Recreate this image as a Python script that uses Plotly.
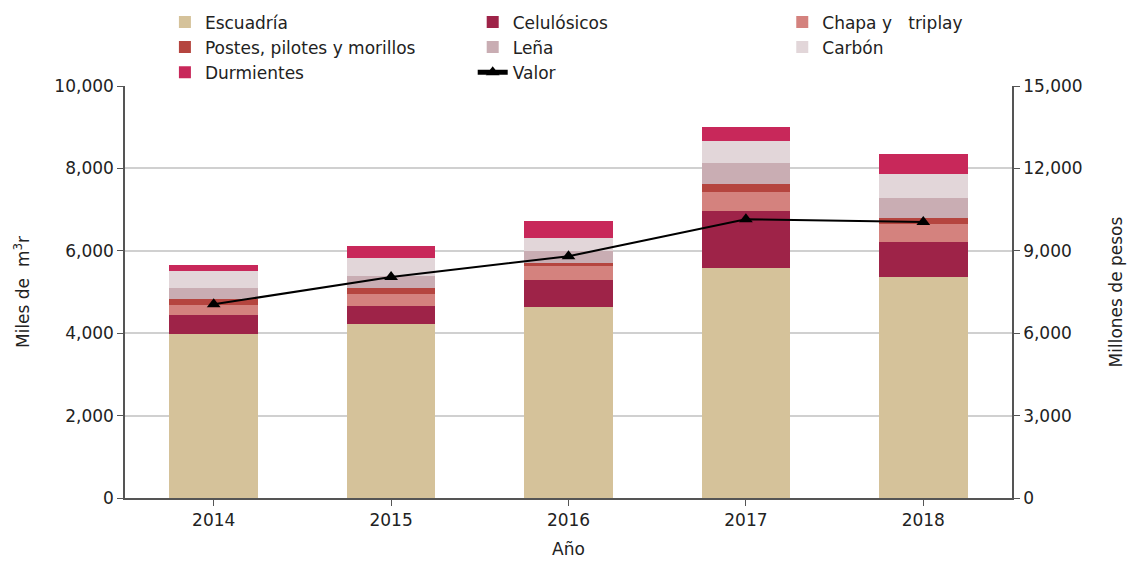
import plotly.graph_objects as go

# Datos (miles de m3r por producto, valor en millones de pesos)
anios = ['2014', '2015', '2016', '2017', '2018']
escuadria = [3980, 4220, 4645, 5575, 5370]
celulosicos = [470, 450, 645, 1400, 850]
chapa = [225, 275, 340, 460, 420]
postes = [145, 160, 65, 180, 160]
lena = [285, 290, 305, 525, 470]
carbon = [400, 420, 300, 535, 585]
durmientes = [140, 305, 430, 325, 485]
valor = [7050, 8050, 8800, 10150, 10050]

# (nombre, datos, color, columna de la leyenda)
series = [
    ('Escuadría', escuadria, '#D5C29A', 'legend'),
    ('Celulósicos', celulosicos, '#9E2348', 'legend2'),
    ('Chapa y\u00a0\u00a0 triplay', chapa, '#D4827E', 'legend3'),
    ('Postes, pilotes y morillos', postes, '#B5453F', 'legend'),
    ('Leña', lena, '#C9ADB3', 'legend2'),
    ('Carbón', carbon, '#E2D6D9', 'legend3'),
    ('Durmientes', durmientes, '#C8285A', 'legend'),
]

FONT = 'DejaVu Sans'
TXT = '#222222'

fig = go.Figure()

for nombre, vals, color, leg in series:
    fig.add_trace(go.Bar(
        x=anios, y=vals, name=nombre, legend=leg,
        marker=dict(color=color, line=dict(width=0)),
    ))

fig.add_trace(go.Scatter(
    x=anios, y=valor, name='Valor', yaxis='y2', legend='legend2',
    mode='lines+markers',
    line=dict(color='black', width=2),
    marker=dict(symbol='triangle-up', size=12, color='black'),
))

axis_common = dict(
    showline=True, linecolor='#555555', linewidth=1.5,
    ticks='outside', ticklen=6, tickcolor='#555555',
    tickfont=dict(family=FONT, size=17, color=TXT),
    automargin=False,
)

leg_common = dict(
    orientation='v', y=1.198, yanchor='top', xanchor='left',
    traceorder='normal', tracegroupgap=0, itemsizing='constant',
    font=dict(family=FONT, size=17, color=TXT),
    bgcolor='rgba(0,0,0,0)',
)

# la página añade un margen de 8 px alrededor de la figura
fig.update_layout(
    width=1140, height=563,
    barmode='stack', bargap=0.5,
    plot_bgcolor='white', paper_bgcolor='white',
    margin=dict(l=117, r=136, t=78, b=73, autoexpand=False),
    font=dict(family=FONT, color=TXT),
    xaxis=dict(
        **axis_common,
        title=dict(text='Año', font=dict(family=FONT, size=17, color=TXT), standoff=14),
    ),
    yaxis=dict(
        **axis_common,
        range=[0, 10000], dtick=2000, tickformat=',',
        showgrid=True, gridcolor='#D0D0D0', gridwidth=1.5,
        title=dict(text='Miles de  m<sup>3</sup>r', font=dict(family=FONT, size=17, color=TXT), standoff=20),
    ),
    yaxis2=dict(
        **axis_common,
        overlaying='y', side='right',
        range=[0, 15000], dtick=3000, tickformat=',',
        showgrid=False,
        title=dict(text='Millones de pesos', font=dict(family=FONT, size=17, color=TXT), standoff=28),
    ),
    legend=dict(**leg_common, x=0.045),
    legend2=dict(**leg_common, x=0.392),
    legend3=dict(**leg_common, x=0.741),
)

fig.write_html('out.html')
